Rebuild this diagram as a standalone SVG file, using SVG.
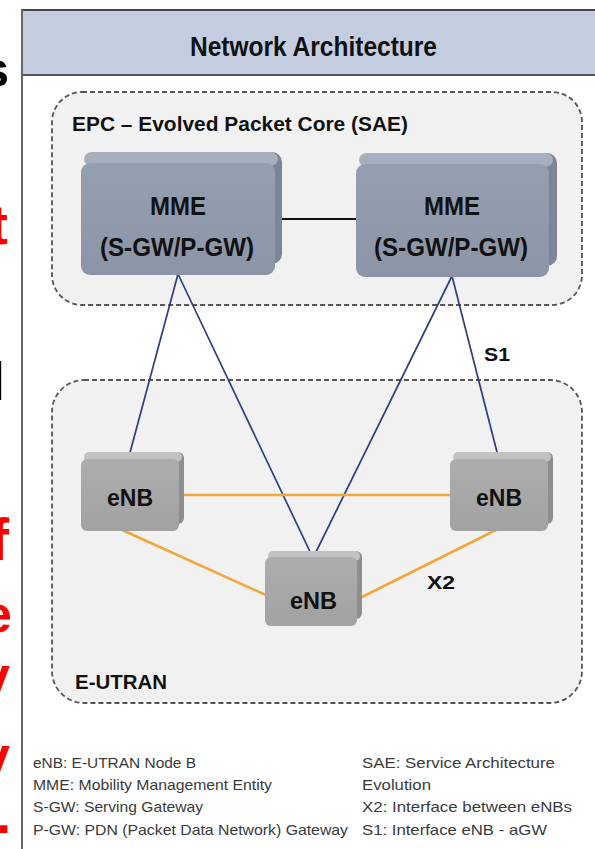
<svg xmlns="http://www.w3.org/2000/svg" width="595" height="849" viewBox="0 0 595 849">
<defs>
<style>
.t{font-family:"Liberation Sans Narrow","Liberation Sans",Arial,sans-serif;}
.b{font-weight:bold;fill:#111;}
.leg{font-size:15px;fill:#3a3a3a;}
.cont{fill:#f1f1f1;stroke:#555;stroke-width:1.8;stroke-dasharray:5 3;}
.s1{stroke:#2b3f7e;stroke-width:1.7;fill:none;}
.x2{stroke:#f2a73c;stroke-width:2.6;fill:none;}
.side{font-family:"Liberation Sans",Arial,sans-serif;font-weight:bold;}
</style>
<linearGradient id="mmeF" x1="0" y1="0" x2="0" y2="1"><stop offset="0" stop-color="#969fb0"/><stop offset="1" stop-color="#8c95a7"/></linearGradient>
<linearGradient id="enbF" x1="0" y1="0" x2="0" y2="1"><stop offset="0" stop-color="#adadad"/><stop offset="1" stop-color="#a2a2a2"/></linearGradient>
</defs>
<rect width="595" height="849" fill="#fff"/>
<!-- clipped slide letters on the left -->
<g id="side-letters" class="side" text-anchor="end">
<text x="9" y="87" font-size="50" fill="#000">s</text>
<text x="8" y="244" font-size="56" fill="#f00">t</text>
<text x="5" y="400" font-size="54" fill="#000">l</text>
<text x="9" y="560" font-size="60" fill="#f00">f</text>
<text x="12" y="632" font-size="52" fill="#f00">e</text>
<text x="10" y="693" font-size="52" fill="#f00">v</text>
<text x="10" y="773" font-size="52" fill="#f00">v</text>
<text x="11" y="833" font-size="52" fill="#f00">.</text>
</g>
<!-- frame and header -->
<g id="frame">
<rect x="22" y="10" width="580" height="65" fill="#c4cee0"/>
<line x1="22" y1="10" x2="595" y2="10" stroke="#444" stroke-width="2"/>
<line x1="22" y1="75" x2="595" y2="75" stroke="#555" stroke-width="2"/>
<line x1="22" y1="9" x2="22" y2="849" stroke="#666" stroke-width="2"/>
<text class="t b" x="190" y="56" font-size="28" textLength="247" lengthAdjust="spacingAndGlyphs">Network Architecture</text>
</g>
<!-- containers -->
<g id="epc">
<rect class="cont" x="52" y="92" width="530" height="213" rx="30"/>
<text class="t b" x="72" y="131" font-size="20" textLength="336" lengthAdjust="spacingAndGlyphs">EPC – Evolved Packet Core (SAE)</text>
</g>
<g id="eutran">
<rect class="cont" x="52" y="380" width="530" height="323" rx="32"/>
<text class="t b" x="75" y="689" font-size="21" textLength="92" lengthAdjust="spacingAndGlyphs">E-UTRAN</text>
</g>
<!-- connectors -->
<g id="connectors">
<line x1="275" y1="219" x2="358" y2="219" stroke="#111" stroke-width="2"/>
<line class="s1" x1="178" y1="274" x2="128" y2="460"/>
<line class="s1" x1="178" y1="274" x2="313" y2="558"/>
<line class="s1" x1="452" y1="276" x2="313" y2="558"/>
<line class="s1" x1="452" y1="276" x2="499" y2="460"/>
<line class="x2" x1="180" y1="495" x2="452" y2="495"/>
<line class="x2" x1="120" y1="529" x2="268" y2="596"/>
<line class="x2" x1="498" y1="529" x2="360" y2="598"/>
<text class="t b" x="484" y="361" font-size="19" textLength="26" lengthAdjust="spacingAndGlyphs">S1</text>
<text class="t b" x="427" y="589" font-size="19" textLength="28" lengthAdjust="spacingAndGlyphs">X2</text>
</g>
<!-- MME nodes -->
<g id="mme1">
<rect x="88" y="152" width="194" height="112" rx="10" fill="#7c8597"/>
<rect x="84" y="152" width="194" height="14" rx="8" fill="#a7afbe"/>
<rect x="81" y="163" width="194" height="112" rx="9" fill="url(#mmeF)"/>
<text class="t b" x="150" y="215" font-size="25" textLength="56" lengthAdjust="spacingAndGlyphs">MME</text>
<text class="t b" x="100" y="256" font-size="25" textLength="154" lengthAdjust="spacingAndGlyphs">(S-GW/P-GW)</text>
</g>
<g id="mme2">
<rect x="363" y="153" width="194" height="113" rx="10" fill="#7c8597"/>
<rect x="359" y="153" width="194" height="14" rx="8" fill="#a7afbe"/>
<rect x="356" y="164" width="193" height="113" rx="9" fill="url(#mmeF)"/>
<text class="t b" x="424" y="215" font-size="25" textLength="56" lengthAdjust="spacingAndGlyphs">MME</text>
<text class="t b" x="374" y="256" font-size="25" textLength="154" lengthAdjust="spacingAndGlyphs">(S-GW/P-GW)</text>
</g>
<!-- eNB nodes -->
<g id="enb1">
<rect x="86" y="452" width="98" height="72" rx="6" fill="#8e8e8e"/>
<rect x="84" y="452" width="98" height="10" rx="5" fill="#c2c2c2"/>
<rect x="81" y="459" width="98" height="72" rx="6" fill="url(#enbF)"/>
<text class="t b" x="107" y="506" font-size="24" textLength="46" lengthAdjust="spacingAndGlyphs">eNB</text>
</g>
<g id="enb2">
<rect x="455" y="452" width="98" height="72" rx="6" fill="#8e8e8e"/>
<rect x="453" y="452" width="98" height="10" rx="5" fill="#c2c2c2"/>
<rect x="450" y="459" width="98" height="72" rx="6" fill="url(#enbF)"/>
<text class="t b" x="476" y="506" font-size="24" textLength="46" lengthAdjust="spacingAndGlyphs">eNB</text>
</g>
<g id="enb3">
<rect x="270" y="551" width="92" height="68" rx="6" fill="#8e8e8e"/>
<rect x="268" y="551" width="92" height="10" rx="5" fill="#c2c2c2"/>
<rect x="265" y="557" width="92" height="69" rx="6" fill="url(#enbF)"/>
<text class="t b" x="290" y="609" font-size="24" textLength="47" lengthAdjust="spacingAndGlyphs">eNB</text>
</g>
<!-- legend -->
<g id="legend" class="t leg">
<text x="33" y="768" textLength="163" lengthAdjust="spacingAndGlyphs">eNB: E-UTRAN Node B</text>
<text x="33" y="790" textLength="239" lengthAdjust="spacingAndGlyphs">MME: Mobility Management Entity</text>
<text x="33" y="812" textLength="170" lengthAdjust="spacingAndGlyphs">S-GW: Serving Gateway</text>
<text x="33" y="835" textLength="315" lengthAdjust="spacingAndGlyphs">P-GW: PDN (Packet Data Network) Gateway</text>
<text x="362" y="768" textLength="193" lengthAdjust="spacingAndGlyphs">SAE: Service Architecture</text>
<text x="362" y="790" textLength="69" lengthAdjust="spacingAndGlyphs">Evolution</text>
<text x="362" y="812" textLength="210" lengthAdjust="spacingAndGlyphs">X2: Interface between eNBs</text>
<text x="362" y="835" textLength="185" lengthAdjust="spacingAndGlyphs">S1: Interface eNB - aGW</text>
</g>
</svg>
